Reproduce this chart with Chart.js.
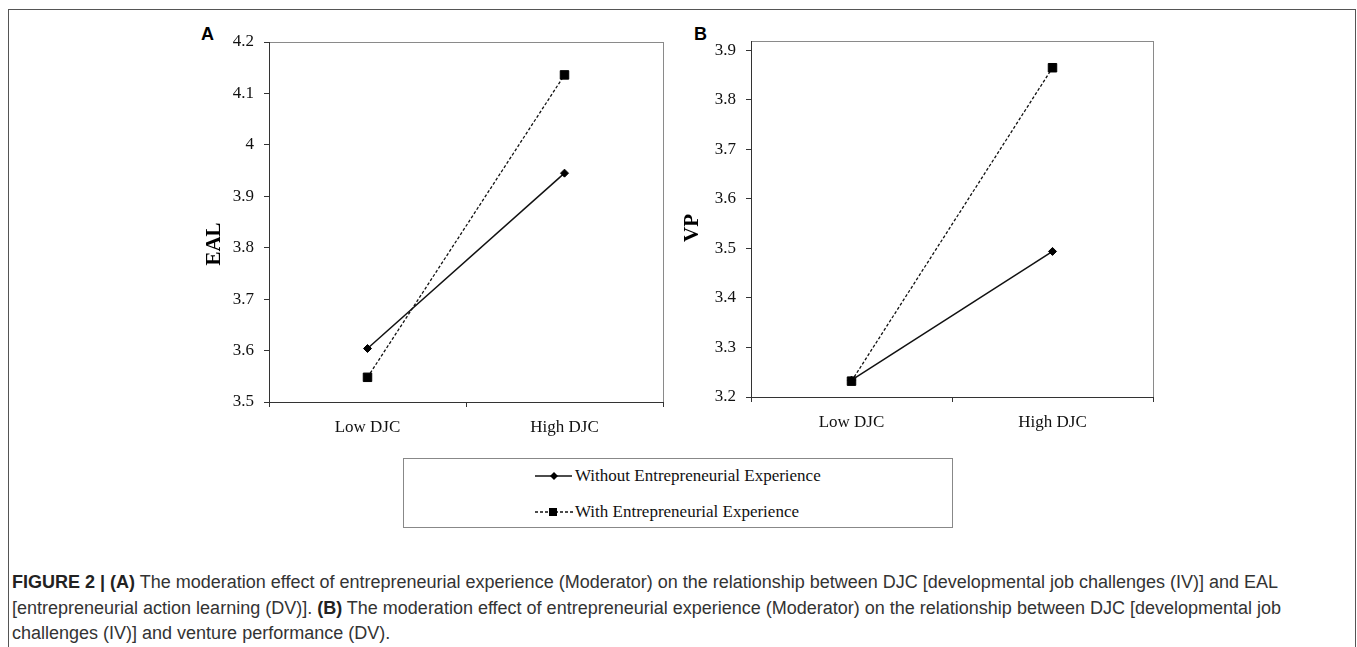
<!DOCTYPE html>
<html>
<head>
<meta charset="utf-8">
<script src="https://cdn.jsdelivr.net/npm/chart.js@4"></script>
<style>
  body { margin: 0; width: 1357px; height: 647px; background: #fff; position: relative; overflow: hidden; }
  .frame { position: absolute; left: 8px; top: 9px; width: 1346px; height: 660px; border: 1px solid #555; }
  .panel { position: absolute; top: 20px; width: 500px; height: 430px; }
  .tag { position: absolute; font: bold 18px "Liberation Sans", Arial, sans-serif; color: #000; }
  .legend { position: absolute; left: 403px; top: 458px; width: 548px; height: 68px; border: 1px solid #888; }
  .row { position: absolute; left: 131px; font: 17px "Liberation Serif", "Times New Roman", serif; color: #111; white-space: nowrap; }
  .row svg { position: absolute; left: 0; top: 0; }
  .row span { position: absolute; left: 40px; top: 0; line-height: 20px; }
  .caption { position: absolute; left: 12px; top: 570px; font: 18px "Liberation Sans", Arial, sans-serif; color: #333; line-height: 25.5px; white-space: nowrap; }
  .caption b { color: #222; }
</style>
</head>
<body>
<div class="frame"></div>
<div class="tag" style="left:201px;top:24px">A</div>
<div class="tag" style="left:694px;top:24px">B</div>
<div class="panel" style="left:180px"><canvas id="chartA"></canvas></div>
<div class="panel" style="left:670px"><canvas id="chartB"></canvas></div>

<div class="legend">
  <div class="row" style="top:7px">
    <svg width="40" height="20"><line x1="0" y1="10" x2="37" y2="10" stroke="#111" stroke-width="1.5"/><polygon points="19,6 23,10 19,14 15,10" fill="#000"/></svg>
    <span>Without Entrepreneurial Experience</span>
  </div>
  <div class="row" style="top:43px">
    <svg width="40" height="20"><line x1="0" y1="10" x2="38" y2="10" stroke="#111" stroke-width="1.3" stroke-dasharray="3,2"/><rect x="14" y="6" width="8" height="8" fill="#000"/></svg>
    <span>With Entrepreneurial Experience</span>
  </div>
</div>

<div class="caption">
  <div><b>FIGURE 2 | (A)</b> The moderation effect of entrepreneurial experience (Moderator) on the relationship between DJC [developmental job challenges (IV)] and EAL</div>
  <div>[entrepreneurial action learning (DV)]. <b>(B)</b> The moderation effect of entrepreneurial experience (Moderator) on the relationship between DJC [developmental job</div>
  <div>challenges (IV)] and venture performance (DV).</div>
</div>

<script>
const categories = ['Low DJC', 'High DJC'];
const seriesNames = ['Without Entrepreneurial Experience', 'With Entrepreneurial Experience'];

// panel A: EAL
const ealWithout = [3.604, 3.945];
const ealWith = [3.548, 4.136];
const ealTicks = [3.5, 3.6, 3.7, 3.8, 3.9, 4, 4.1, 4.2];

// panel B: VP
const vpWithout = [3.234, 3.494];
const vpWith = [3.232, 3.865];
const vpTicks = [3.2, 3.3, 3.4, 3.5, 3.6, 3.7, 3.8, 3.9];

// grey box round the plot area, axes are drawn on top of it
const boxPlugin = {
  id: 'plotBox',
  beforeDraw(chart) {
    const a = chart.chartArea, ctx = chart.ctx;
    ctx.save();
    ctx.strokeStyle = '#8a8a8a';
    ctx.lineWidth = 1;
    ctx.strokeRect(Math.round(a.left) + 0.5, Math.round(a.top) + 0.5, Math.round(a.right - a.left), Math.round(a.bottom - a.top));
    ctx.restore();
  }
};

// rotated y title, placed like the original rather than centred
const yTitlePlugin = {
  id: 'yTitle',
  afterDraw(chart, args, opts) {
    const ctx = chart.ctx;
    ctx.save();
    ctx.translate(opts.x, opts.y);
    ctx.rotate(-Math.PI / 2);
    ctx.font = 'bold 21px "Liberation Serif", "Times New Roman", serif';
    ctx.fillStyle = '#000';
    ctx.textAlign = 'center';
    ctx.textBaseline = 'middle';
    ctx.fillText(opts.text, 0, 0);
    ctx.restore();
  }
};

function makeChart(id, without, withExp, ticks, min, max, yWidth, xHeight, padTop, title) {
  const tickFont = { family: '"Liberation Serif", "Times New Roman", serif', size: 17 };
  return new Chart(document.getElementById(id), {
    type: 'line',
    data: {
      labels: categories,
      datasets: [
        { label: seriesNames[0], data: without, borderColor: '#111', borderWidth: 1.5,
          pointStyle: 'rectRot', pointRadius: 4, pointBackgroundColor: '#000', pointBorderColor: '#000', pointBorderWidth: 1 },
        { label: seriesNames[1], data: withExp, borderColor: '#111', borderWidth: 1.3, borderDash: [3, 2],
          pointStyle: 'rect', pointRadius: 6, pointBackgroundColor: '#000', pointBorderColor: '#000', pointBorderWidth: 1 }
      ]
    },
    options: {
      responsive: true,
      maintainAspectRatio: false,
      animation: false,
      layout: { padding: { top: padTop, right: 17, left: 0, bottom: 0 } },
      plugins: {
        legend: { display: false },
        tooltip: { enabled: false },
        yTitle: title
      },
      scales: {
        x: {
          type: 'category',
          offset: true,
          grid: { drawOnChartArea: false, drawTicks: true, tickLength: 5, color: '#333', offset: true },
          border: { color: '#333', width: 1 },
          ticks: { font: tickFont, color: '#111', padding: 10, maxRotation: 0 },
          afterFit(s) { s.height = xHeight; }
        },
        y: {
          min: min, max: max,
          grid: { drawOnChartArea: false, drawTicks: true, tickLength: 5, color: '#333' },
          border: { color: '#333', width: 1 },
          ticks: { font: tickFont, color: '#111', padding: 10, callback: v => String(Math.round(v * 10) / 10) },
          afterBuildTicks(s) { s.ticks = ticks.map(v => ({ value: v })); },
          afterFit(s) { s.width = yWidth; }
        }
      }
    },
    plugins: [boxPlugin, yTitlePlugin]
  });
}

makeChart('chartA', ealWithout, ealWith, ealTicks, 3.5, 4.2, 89, 48, 22, { text: 'EAL', x: 35, y: 224 });
makeChart('chartB', vpWithout, vpWith, vpTicks, 3.2, 3.919, 81, 53, 21, { text: 'VP', x: 23, y: 208 });
</script>
</body>
</html>
